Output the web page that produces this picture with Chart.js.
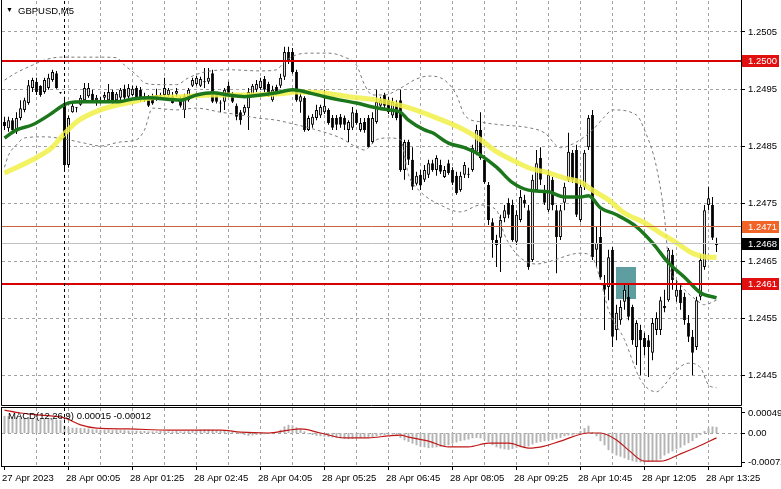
<!DOCTYPE html>
<html>
<head>
<meta charset="utf-8">
<title>GBPUSD,M5</title>
<script src="https://cdn.jsdelivr.net/npm/chart.js@4.4.1/dist/chart.umd.min.js"></script>
<style>
  html, body { margin: 0; padding: 0; background: #fff; }
  #wrap { position: relative; width: 781px; height: 489px; overflow: hidden; }
  #priceChart { position: absolute; left: 0; top: 0; }
  #macdChart { position: absolute; left: 0; top: 407px; }
</style>
</head>
<body>
<div id="wrap">
  <canvas id="priceChart" width="781" height="407"></canvas>
  <canvas id="macdChart" width="781" height="82"></canvas>
</div>
<script>
// GBPUSD M5, 27 Apr 22:45 .. 28 Apr 13:35, one entry per bar
var opens = [
  1.24893,1.24882,1.24896,1.24876,1.24900,1.24914,1.24926,1.24952,1.24963,1.24956,
  1.24945,1.24952,1.24966,1.24978,1.24944,1.24926,1.24818,1.24910,1.24917,1.24923,
  1.24931,1.24938,1.24942,1.24931,1.24931,1.24935,1.24931,1.24945,1.24931,1.24935,
  1.24951,1.24937,1.24940,1.24952,1.24949,1.24931,1.24938,1.24937,1.24931,1.24940,
  1.24940,1.24940,1.24938,1.24942,1.24935,1.24914,1.24931,1.24956,1.24959,1.24956,
  1.24963,1.24963,1.24978,1.24940,1.24926,1.24928,1.24956,1.24942,1.24921,1.24910,
  1.24909,1.24917,1.24940,1.24949,1.24952,1.24968,1.24959,1.24931,1.24954,1.24956,
  1.24972,1.25015,1.25015,1.24980,1.24928,1.24935,1.24879,1.24888,1.24900,1.24904,
  1.24910,1.24914,1.24900,1.24900,1.24902,1.24900,1.24879,1.24883,1.24909,1.24879,
  1.24893,1.24900,1.24858,1.24893,1.24921,1.24940,1.24931,1.24904,1.24925,1.24931,
  1.24809,1.24858,1.24827,1.24785,1.24801,1.24792,1.24801,1.24821,1.24809,1.24818,
  1.24797,1.24821,1.24809,1.24799,1.24774,1.24801,1.24802,1.24809,1.24841,1.24879,
  1.24827,1.24783,1.24718,1.24687,1.24691,1.24725,1.24752,1.24748,1.24684,1.24722,
  1.24757,1.24739,1.24652,1.24774,1.24830,1.24774,1.24739,1.24792,1.24739,1.24692,
  1.24752,1.24792,1.24839,1.24844,1.24722,1.24780,1.24849,1.24905,1.24670,1.24692,
  1.24612,1.24605,1.24670,1.24530,1.24547,1.24579,1.24588,1.24570,1.24500,1.24530,
  1.24516,1.24512,1.24490,1.24530,1.24530,1.24572,1.24582,1.24661,1.24588,1.24600,
  1.24588,1.24542,1.24518,1.24500,1.24588,1.24640,1.24748,1.24748,1.24678
];
var highs = [
  1.24902,1.24902,1.24900,1.24910,1.24931,1.24935,1.24966,1.24970,1.24970,1.24957,
  1.24970,1.24977,1.24984,1.24982,1.24945,1.24937,1.24904,1.24925,1.24919,1.24940,
  1.24961,1.24961,1.24949,1.24940,1.24937,1.24945,1.24959,1.24949,1.24945,1.24952,
  1.24958,1.24959,1.24956,1.24956,1.24954,1.24944,1.24940,1.24942,1.24951,1.24944,
  1.24970,1.24952,1.24945,1.24952,1.24938,1.24942,1.24952,1.24970,1.24973,1.24972,
  1.24987,1.24987,1.24984,1.24944,1.24931,1.24952,1.24963,1.24945,1.24925,1.24914,
  1.24923,1.24952,1.24959,1.24966,1.24970,1.24973,1.24963,1.24956,1.24958,1.24977,
  1.25024,1.25024,1.25022,1.24984,1.24944,1.24938,1.24904,1.24907,1.24923,1.24923,
  1.24949,1.24917,1.24905,1.24905,1.24907,1.24904,1.24896,1.24919,1.24914,1.24900,
  1.24900,1.24905,1.24910,1.24949,1.24937,1.24944,1.24937,1.24935,1.24931,1.24949,
  1.24862,1.24862,1.24849,1.24806,1.24809,1.24818,1.24827,1.24827,1.24835,1.24827,
  1.24816,1.24827,1.24814,1.24806,1.24806,1.24823,1.24813,1.24853,1.24888,1.24910,
  1.24835,1.24788,1.24725,1.24696,1.24731,1.24748,1.24760,1.24757,1.24739,1.24774,
  1.24766,1.24748,1.24801,1.24844,1.24849,1.24783,1.24809,1.24797,1.24748,1.24748,
  1.24787,1.24874,1.24844,1.24853,1.24792,1.24844,1.24905,1.24914,1.24710,1.24739,
  1.24626,1.24670,1.24675,1.24574,1.24582,1.24609,1.24612,1.24574,1.24547,1.24539,
  1.24525,1.24521,1.24551,1.24561,1.24588,1.24600,1.24673,1.24670,1.24617,1.24612,
  1.24595,1.24556,1.24530,1.24588,1.24661,1.24748,1.24780,1.24762,1.24691
];
var lows = [
  1.24879,1.24876,1.24874,1.24872,1.24896,1.24910,1.24923,1.24945,1.24940,1.24937,
  1.24942,1.24949,1.24963,1.24951,1.24942,1.24806,1.24813,1.24909,1.24910,1.24921,
  1.24930,1.24935,1.24926,1.24921,1.24925,1.24931,1.24928,1.24925,1.24928,1.24931,
  1.24931,1.24933,1.24938,1.24931,1.24928,1.24928,1.24919,1.24923,1.24930,1.24937,
  1.24937,1.24937,1.24925,1.24937,1.24918,1.24900,1.24928,1.24954,1.24956,1.24954,
  1.24952,1.24959,1.24926,1.24925,1.24910,1.24914,1.24938,1.24926,1.24896,1.24888,
  1.24905,1.24879,1.24937,1.24945,1.24949,1.24945,1.24937,1.24928,1.24940,1.24952,
  1.24966,1.24994,1.24977,1.24928,1.24909,1.24876,1.24877,1.24883,1.24896,1.24900,
  1.24907,1.24888,1.24879,1.24879,1.24883,1.24879,1.24858,1.24879,1.24888,1.24876,
  1.24874,1.24848,1.24855,1.24890,1.24917,1.24917,1.24907,1.24900,1.24896,1.24806,
  1.24792,1.24818,1.24774,1.24782,1.24774,1.24788,1.24795,1.24806,1.24799,1.24802,
  1.24795,1.24801,1.24783,1.24766,1.24771,1.24795,1.24795,1.24806,1.24835,1.24827,
  1.24785,1.24713,1.24656,1.24640,1.24631,1.24718,1.24725,1.24684,1.24678,1.24718,
  1.24743,1.24635,1.24649,1.24771,1.24783,1.24748,1.24736,1.24739,1.24629,1.24687,
  1.24739,1.24788,1.24787,1.24727,1.24718,1.24774,1.24844,1.24652,1.24640,1.24617,
  1.24530,1.24582,1.24500,1.24512,1.24539,1.24565,1.24547,1.24504,1.24469,1.24451,
  1.24486,1.24448,1.24477,1.24521,1.24521,1.24561,1.24579,1.24600,1.24579,1.24565,
  1.24539,1.24509,1.24451,1.24495,1.24582,1.24635,1.24739,1.24687,1.24666
];
var closes = [
  1.24886,1.24896,1.24879,1.24900,1.24917,1.24931,1.24957,1.24966,1.24945,1.24940,
  1.24966,1.24970,1.24980,1.24952,1.24943,1.24818,1.24900,1.24921,1.24918,1.24935,
  1.24952,1.24952,1.24931,1.24935,1.24930,1.24940,1.24945,1.24926,1.24942,1.24949,
  1.24935,1.24952,1.24951,1.24935,1.24931,1.24938,1.24921,1.24925,1.24940,1.24938,
  1.24952,1.24949,1.24926,1.24947,1.24921,1.24938,1.24949,1.24966,1.24970,1.24968,
  1.24962,1.24970,1.24928,1.24928,1.24925,1.24949,1.24940,1.24928,1.24902,1.24896,
  1.24919,1.24945,1.24956,1.24959,1.24965,1.24949,1.24940,1.24949,1.24942,1.24970,
  1.25015,1.24998,1.24980,1.24931,1.24938,1.24879,1.24900,1.24902,1.24914,1.24919,
  1.24921,1.24891,1.24883,1.24888,1.24888,1.24888,1.24893,1.24910,1.24891,1.24891,
  1.24879,1.24849,1.24900,1.24928,1.24931,1.24921,1.24910,1.24928,1.24900,1.24809,
  1.24858,1.24827,1.24780,1.24799,1.24782,1.24809,1.24821,1.24809,1.24830,1.24806,
  1.24809,1.24804,1.24787,1.24769,1.24799,1.24818,1.24801,1.24848,1.24879,1.24830,
  1.24788,1.24722,1.24687,1.24678,1.24722,1.24739,1.24731,1.24687,1.24731,1.24762,
  1.24750,1.24640,1.24792,1.24821,1.24792,1.24752,1.24801,1.24748,1.24692,1.24739,
  1.24780,1.24841,1.24792,1.24731,1.24780,1.24839,1.24900,1.24657,1.24682,1.24622,
  1.24600,1.24657,1.24518,1.24560,1.24570,1.24600,1.24553,1.24512,1.24542,1.24512,
  1.24500,1.24500,1.24542,1.24551,1.24582,1.24568,1.24670,1.24617,1.24600,1.24577,
  1.24547,1.24518,1.24490,1.24582,1.24652,1.24739,1.24760,1.24691,1.24680
];

// moving averages and bands at a few bars
var maSlowBars = [0,7,12,14,18,24,32,37,44,52,62,69,73,79,86,94,101,108,115,119,123,128,131,136,140,144,147,151,155,160,164,168,172,176,178];
var maSlowValues = [1.24804,1.24827,1.24849,1.24865,1.24893,1.24914,1.24928,1.24935,1.24937,1.24940,1.24940,1.24942,1.24945,1.24944,1.24937,1.24930,1.24918,1.24900,1.24879,1.24862,1.24841,1.24823,1.24813,1.24804,1.24795,1.24788,1.24774,1.24757,1.24734,1.24717,1.24699,1.24682,1.24664,1.24657,1.24657];
var maFastBars = [0,3,7,12,14,16,20,24,28,32,36,44,48,52,56,60,64,68,72,76,80,84,88,92,96,99,101,105,107,111,115,119,123,127,131,136,140,144,146,149,153,158,162,166,170,174,178];
var maFastValues = [1.24865,1.24879,1.24888,1.24909,1.24919,1.24926,1.24928,1.24928,1.24928,1.24933,1.24935,1.24931,1.24940,1.24944,1.24940,1.24937,1.24940,1.24944,1.24949,1.24944,1.24937,1.24931,1.24926,1.24919,1.24914,1.24910,1.24896,1.24879,1.24874,1.24856,1.24848,1.24835,1.24814,1.24787,1.24774,1.24771,1.24762,1.24762,1.24764,1.24743,1.24731,1.24710,1.24682,1.24647,1.24622,1.24595,1.24586];
var bandUpperBars = [0,3,7,10,14,24,28,30,33,35,39,43,46,50,56,64,68,70,73,76,81,85,88,90,92,95,99,103,106,110,113,115,119,124,131,135,139,143,147,150,152,158,160,163,165,166,169,173,175,178];
var bandUpperValues = [1.24966,1.24979,1.24992,1.25001,1.25006,1.25006,1.25005,1.24992,1.24975,1.24961,1.24958,1.24958,1.24970,1.24980,1.24984,1.24982,1.24984,1.24998,1.25010,1.25013,1.25013,1.25006,1.24992,1.24958,1.24940,1.24940,1.24952,1.24968,1.24973,1.24966,1.24940,1.24905,1.24893,1.24888,1.24883,1.24874,1.24848,1.24858,1.24879,1.24902,1.24914,1.24905,1.24879,1.24814,1.24727,1.24652,1.24609,1.24582,1.24574,1.24582];
var bandLowerBars = [0,1,3,5,10,15,20,24,29,33,35,37,43,48,54,59,63,68,73,78,84,88,90,93,96,99,101,104,109,114,119,123,125,129,133,136,144,147,149,151,155,159,163,165,168,171,174,176,178];
var bandLowerValues = [1.24814,1.24835,1.24853,1.24865,1.24867,1.24863,1.24856,1.24851,1.24858,1.24862,1.24879,1.24917,1.24914,1.24917,1.24910,1.24905,1.24900,1.24896,1.24888,1.24879,1.24865,1.24849,1.24844,1.24862,1.24865,1.24862,1.24801,1.24771,1.24748,1.24736,1.24748,1.24739,1.24696,1.24656,1.24645,1.24649,1.24664,1.24656,1.24617,1.24565,1.24513,1.24443,1.24422,1.24434,1.24460,1.24472,1.24464,1.24434,1.24429];

// MACD(12,26,9): main as histogram, signal as line
var macdMain = [
  0.00042,0.00041,0.00040,0.00040,0.00039,
  0.00037,0.00037,0.00036,0.00036,0.00035,0.00035,0.00034,0.00034,0.00033,0.00032,
  0.00018,
  0.00014,0.00013,0.00013,0.00012,0.00012,0.00011,
  0.00009,0.00009,0.00008,0.00008,0.00008,0.00007,0.00008,0.00007,0.00007,0.00006,0.00006,0.00006,0.00005,
  0.00005,0.00004,0.00004,0.00004,0.00005,0.00005,0.00004,0.00004,0.00005,0.00004,0.00004,0.00005,0.00006,0.00007,0.00008,
  0.00009,0.00009,0.00008,0.00007,0.00006,0.00006,0.00004,0.00003,0.00001,-0.00002,
  -0.00005,-0.00007,-0.00006,-0.00005,-0.00004,-0.00003,-0.00002,0.00000,0.00002,
  0.00008,0.00016,0.00020,0.00019,
  0.00014,0.00010,0.00004,
  -0.00003,-0.00005,-0.00007,-0.00008,-0.00009,-0.00010,-0.00011,
  -0.00012,-0.00013,-0.00014,-0.00015,-0.00014,-0.00013,-0.00012,
  -0.00011,-0.00010,-0.00010,-0.00008,-0.00006,-0.00005,
  -0.00004,-0.00004,-0.00005,
  -0.00012,-0.00018,-0.00022,-0.00026,
  -0.00030,-0.00033,-0.00035,-0.00037,-0.00036,
  -0.00035,-0.00034,-0.00032,-0.00030,
  -0.00026,-0.00023,-0.00020,-0.00018,-0.00016,
  -0.00013,-0.00012,-0.00013,-0.00016,-0.00022,
  -0.00030,-0.00035,-0.00038,-0.00040,-0.00041,-0.00039,
  -0.00036,-0.00035,-0.00036,-0.00033,
  -0.00028,-0.00024,-0.00022,-0.00020,-0.00018,-0.00017,
  -0.00014,-0.00012,-0.00008,-0.00006,-0.00006,-0.00003,
  0.00005,0.00012,0.00018,
  0.00002,-0.00008,
  -0.00020,-0.00030,-0.00042,-0.00050,
  -0.00055,-0.00058,-0.00062,-0.00066,-0.00069,-0.00071,-0.00072,
  -0.00072,-0.00071,-0.00070,-0.00068,-0.00064,
  -0.00055,-0.00050,-0.00045,-0.00040,-0.00036,
  -0.00030,-0.00025,-0.00020,-0.00012,-0.00005,
  0.00005,0.00012,0.00016,0.00015
];
var macdSignalBars = [0,4,9,15,19,23,31,41,54,59,66,71,74,79,85,91,96,99,101,106,111,116,121,126,131,135,139,146,149,153,156,160,164,169,173,178];
var macdSignalValues = [0.00056,0.00049,0.00044,0.00037,0.00020,0.00012,0.00010,0.00007,0.00007,0.00002,0.00000,0.00007,0.00010,0.00000,-0.00012,-0.00012,-0.00007,-0.00005,-0.00010,-0.00020,-0.00034,-0.00034,-0.00025,-0.00025,-0.00037,-0.00032,-0.00020,0.00000,0.00000,-0.00017,-0.00042,-0.00069,-0.00069,-0.00051,-0.00035,-0.00012];
var macdTicks = [0.00049, 0, -0.00072];
var macdCaption = 'MACD(12,26,9) 0.00015 -0.00012';

var priceTicks = [1.2445, 1.2455, 1.2465, 1.2475, 1.2485, 1.2495, 1.2505];
var timeLabels = ['27 Apr 2023', '28 Apr 00:05', '28 Apr 01:25', '28 Apr 02:45', '28 Apr 04:05', '28 Apr 05:25',
                  '28 Apr 06:45', '28 Apr 08:05', '28 Apr 09:25', '28 Apr 10:45', '28 Apr 12:05', '28 Apr 13:25'];
var timeLabelBars = [0, 16, 32, 48, 64, 80, 96, 112, 128, 144, 160, 176];
var gridBars = [8, 16, 24, 32, 40, 48, 56, 64, 72, 80, 88, 96, 104, 112, 120, 128, 136, 144, 152, 160, 168, 176];
var daySeparatorBar = 15;

// horizontal levels and the drawn rectangle
var levelPrices = [1.2500, 1.2471, 1.2468, 1.2461];
var zoneBars = [152.75, 157.75];
var zonePrices = [1.24640, 1.24584];
var symbolName = 'GBPUSD,M5';

// styles
var FONT = '"Liberation Sans", Arial, sans-serif';
var GRID = '#a2a2a2';
var levelColors = ['#d80000', '#c8643c', '#c0c0c0', '#d80000'];
var levelWidths = [2, 1, 1, 2];
var levelBoxColors = ['#e01010', '#f06428', '#000000', '#e01010'];
var X_MIN = -0.625, X_MAX = 184.125;

function toPoints(bars, values) {
	return bars.map(function(b, k) { return {x: b, y: values[k]}; });
}

function floatBars(from, to) {
	return from.map(function(v, i) { return {x: i, y: [v, to[i]]}; });
}

function noPadding(scale) {
	scale.paddingLeft = 0; scale.paddingRight = 0;
	scale.paddingTop = 0; scale.paddingBottom = 0;
}

// one dashed segment at a time, 3 on / 3 off
function dashedLine(ctx, x1, y1, x2, y2) {
	var len = Math.max(Math.abs(x2 - x1), Math.abs(y2 - y1));
	var dx = (x2 - x1) / len, dy = (y2 - y1) / len;
	for (var s = 0; s < len; s += 6) {
		var e = Math.min(s + 3, len);
		ctx.moveTo(x1 + dx * s, y1 + dy * s);
		ctx.lineTo(x1 + dx * e, y1 + dy * e);
	}
}

// dashed grid from the scales, plus the small tick marks outside the area
function drawGrid(chart, yValues, xMarks) {
	var ctx = chart.ctx, a = chart.chartArea, xs = chart.scales.x, ys = chart.scales.y;
	ctx.save();
	ctx.strokeStyle = GRID;
	ctx.lineWidth = 1;
	ctx.beginPath();
	gridBars.forEach(function(b) {
		var px = Math.floor(xs.getPixelForValue(b)) + 0.5;
		dashedLine(ctx, px, a.top, px, a.bottom);
	});
	yValues.forEach(function(v) {
		var py = Math.floor(ys.getPixelForValue(v)) + 0.5;
		dashedLine(ctx, a.left, py, a.right, py);
	});
	ctx.stroke();

	ctx.strokeStyle = '#000';
	ctx.beginPath();
	ys.ticks.forEach(function(t) {
		var py = Math.floor(ys.getPixelForValue(t.value)) + 0.5;
		ctx.moveTo(a.right, py);
		ctx.lineTo(a.right + 4, py);
	});
	xMarks.forEach(function(b) {
		var px = Math.floor(xs.getPixelForValue(b)) + 0.5;
		ctx.moveTo(px, a.bottom);
		ctx.lineTo(px, a.bottom + 4);
	});
	ctx.stroke();
	ctx.restore();
}

function drawDaySeparator(chart) {
	var ctx = chart.ctx, a = chart.chartArea;
	var px = Math.floor(chart.scales.x.getPixelForValue(daySeparatorBar)) + 0.5;
	ctx.save();
	ctx.strokeStyle = '#000';
	ctx.lineWidth = 1;
	ctx.beginPath();
	dashedLine(ctx, px, a.top, px, a.bottom);
	ctx.stroke();
	ctx.restore();
}

// grid goes in first, under the rectangle and the candles
var priceGrid = {
	id: 'priceGrid',
	beforeDatasetsDraw: function(chart) {
		drawGrid(chart, priceTicks, []);
	}
};

var priceExtras = {
	id: 'priceExtras',
	beforeDatasetsDraw: function(chart) {
		var ctx = chart.ctx, xs = chart.scales.x, ys = chart.scales.y;
		var x1 = xs.getPixelForValue(zoneBars[0]), x2 = xs.getPixelForValue(zoneBars[1]);
		var y1 = ys.getPixelForValue(zonePrices[0]), y2 = ys.getPixelForValue(zonePrices[1]);
		ctx.save();
		ctx.fillStyle = '#5f9ea0';
		ctx.fillRect(Math.round(x1), Math.round(y1), Math.round(x2 - x1), Math.round(y2 - y1));
		ctx.restore();
	},
	afterDatasetsDraw: function(chart) {
		var ctx = chart.ctx, a = chart.chartArea, ys = chart.scales.y;
		ctx.save();
		levelPrices.forEach(function(p, k) {
			var py = ys.getPixelForValue(p);
			py = levelWidths[k] === 2 ? Math.round(py) : Math.floor(py) + 0.5;
			ctx.strokeStyle = levelColors[k];
			ctx.lineWidth = levelWidths[k];
			ctx.beginPath();
			ctx.moveTo(a.left, py);
			ctx.lineTo(a.right, py);
			ctx.stroke();
		});
		ctx.restore();
		drawDaySeparator(chart);
	},
	afterDraw: function(chart) {
		var ctx = chart.ctx, a = chart.chartArea, ys = chart.scales.y;
		ctx.save();
		ctx.strokeStyle = '#000';
		ctx.lineWidth = 1;
		ctx.beginPath();
		ctx.moveTo(a.left - 0.5, a.top - 1);
		ctx.lineTo(a.left - 0.5, a.bottom + 0.5);
		ctx.lineTo(a.right + 0.5, a.bottom + 0.5);
		ctx.lineTo(a.right + 0.5, a.top - 1);
		ctx.stroke();

		ctx.font = '9.5px ' + FONT;
		ctx.textBaseline = 'middle';
		ctx.textAlign = 'left';
		levelPrices.forEach(function(p, k) {
			var py = Math.round(ys.getPixelForValue(p));
			ctx.fillStyle = levelBoxColors[k];
			ctx.fillRect(a.right + 1, py - 6, 37, 12);
			ctx.fillStyle = '#fff';
			ctx.fillText(p.toFixed(4), a.right + 7, py + 0.5);
		});

		ctx.fillStyle = '#000';
		ctx.font = '7px ' + FONT;
		ctx.fillText('\u25BC', 6, 10);
		ctx.font = '9.5px ' + FONT;
		ctx.fillText(symbolName, 18, 11);
		ctx.restore();
	}
};

var macdExtras = {
	id: 'macdExtras',
	beforeDatasetsDraw: function(chart) {
		drawGrid(chart, [0], timeLabelBars);
	},
	afterDatasetsDraw: function(chart) {
		drawDaySeparator(chart);
	},
	afterDraw: function(chart) {
		var ctx = chart.ctx, a = chart.chartArea;
		ctx.save();
		ctx.strokeStyle = '#000';
		ctx.lineWidth = 1;
		ctx.strokeRect(a.left - 0.5, a.top - 0.5, a.right - a.left + 1, a.bottom - a.top + 1);
		ctx.fillStyle = '#000';
		ctx.font = '9.5px ' + FONT;
		ctx.textBaseline = 'middle';
		ctx.fillText(macdCaption, 8, a.top + 8);
		ctx.restore();
	}
};

function buildPriceChart() {
	var ctx = document.getElementById('priceChart').getContext('2d');
	return new Chart(ctx, {
		type: 'bar',
		data: {
			datasets: [{
				type: 'line',
				label: 'MA fast',
				data: toPoints(maFastBars, maFastValues),
				borderColor: '#1c761c',
				borderWidth: 3.5,
				pointRadius: 0,
				cubicInterpolationMode: 'monotone',
				order: 0
			}, {
				type: 'line',
				label: 'MA slow',
				data: toPoints(maSlowBars, maSlowValues),
				borderColor: 'rgba(240,240,70,0.85)',
				borderWidth: 5,
				pointRadius: 0,
				cubicInterpolationMode: 'monotone',
				order: 1
			}, {
				type: 'line',
				label: 'Band upper',
				data: toPoints(bandUpperBars, bandUpperValues),
				borderColor: '#7a7a7a',
				borderWidth: 1,
				borderDash: [3, 3],
				pointRadius: 0,
				cubicInterpolationMode: 'monotone',
				order: 2
			}, {
				type: 'line',
				label: 'Band lower',
				data: toPoints(bandLowerBars, bandLowerValues),
				borderColor: '#7a7a7a',
				borderWidth: 1,
				borderDash: [3, 3],
				pointRadius: 0,
				cubicInterpolationMode: 'monotone',
				order: 2
			}, {
				label: 'Bodies',
				data: floatBars(opens, closes),
				backgroundColor: opens.map(function(o, i) { return closes[i] >= o ? '#fff' : '#000'; }),
				borderColor: '#000',
				borderWidth: 1,
				borderSkipped: false,
				grouped: false,
				maxBarThickness: 3,
				minBarLength: 1,
				inflateAmount: 0,
				order: 3
			}, {
				label: 'Wicks',
				data: floatBars(lows, highs),
				backgroundColor: '#000',
				borderWidth: 0,
				grouped: false,
				maxBarThickness: 1,
				minBarLength: 1,
				inflateAmount: 0,
				order: 4
			}]
		},
		options: {
			responsive: false,
			animation: false,
			events: [],
			layout: { padding: { left: 2, top: 1, right: 0, bottom: 2 } },
			plugins: { legend: { display: false }, tooltip: { enabled: false } },
			scales: {
				x: {
					type: 'linear', min: X_MIN, max: X_MAX, offset: false,
					afterFit: function(s) { s.height = 0; noPadding(s); },
					ticks: { display: false },
					grid: { display: false, offset: false, drawTicks: false },
					border: { display: false }
				},
				y: {
					type: 'linear', position: 'right', min: 1.24399, max: 1.25104,
					afterBuildTicks: function(s) { s.ticks = priceTicks.map(function(v) { return {value: v}; }); },
					afterFit: function(s) { s.width = 40; noPadding(s); },
					ticks: {
						color: '#000', padding: 3,
						font: { family: FONT, size: 9.5 },
						callback: function(v) { return v.toFixed(4); }
					},
					grid: { display: false, drawTicks: true, tickLength: 4 },
					border: { display: false }
				}
			}
		},
		plugins: [priceGrid, priceExtras]
	});
}

function buildMacdChart() {
	var ctx = document.getElementById('macdChart').getContext('2d');
	return new Chart(ctx, {
		type: 'bar',
		data: {
			datasets: [{
				type: 'line',
				label: 'Signal',
				data: toPoints(macdSignalBars, macdSignalValues),
				borderColor: '#c01818',
				borderWidth: 1.2,
				pointRadius: 0,
				cubicInterpolationMode: 'monotone',
				order: 0
			}, {
				label: 'MACD',
				data: macdMain.map(function(v, i) { return {x: i, y: v}; }),
				backgroundColor: '#b4b4b4',
				borderWidth: 0,
				grouped: false,
				maxBarThickness: 2,
				inflateAmount: 0,
				order: 1
			}]
		},
		options: {
			responsive: false,
			animation: false,
			events: [],
			layout: { padding: { left: 2, top: 1, right: 0, bottom: 0 } },
			plugins: { legend: { display: false }, tooltip: { enabled: false } },
			scales: {
				x: {
					type: 'linear', min: X_MIN, max: X_MAX, offset: false,
					afterBuildTicks: function(s) { s.ticks = timeLabelBars.map(function(v) { return {value: v}; }); },
					afterFit: function(s) { s.height = 23; noPadding(s); },
					ticks: {
						color: '#000', padding: 3, align: 'start', labelOffset: -2.5,
						autoSkip: false, maxRotation: 0, minRotation: 0,
						font: { family: FONT, size: 9.5 },
						callback: function(v) {
							var k = timeLabelBars.indexOf(v);
							return k >= 0 ? timeLabels[k] : '';
						}
					},
					grid: { display: false, offset: false, drawTicks: true, tickLength: 4 },
					border: { display: false }
				},
				y: {
					type: 'linear', position: 'right', min: -0.0008085, max: 0.0006125,
					afterBuildTicks: function(s) { s.ticks = macdTicks.map(function(v) { return {value: v}; }); },
					afterFit: function(s) { s.width = 40; noPadding(s); },
					ticks: {
						color: '#000', padding: 3,
						font: { family: FONT, size: 9.5 },
						callback: function(v) { return v === 0 ? '0.00' : v.toFixed(5); }
					},
					grid: { display: false, drawTicks: true, tickLength: 4 },
					border: { display: false }
				}
			}
		},
		plugins: [macdExtras]
	});
}

buildPriceChart();
buildMacdChart();
</script>
</body>
</html>
